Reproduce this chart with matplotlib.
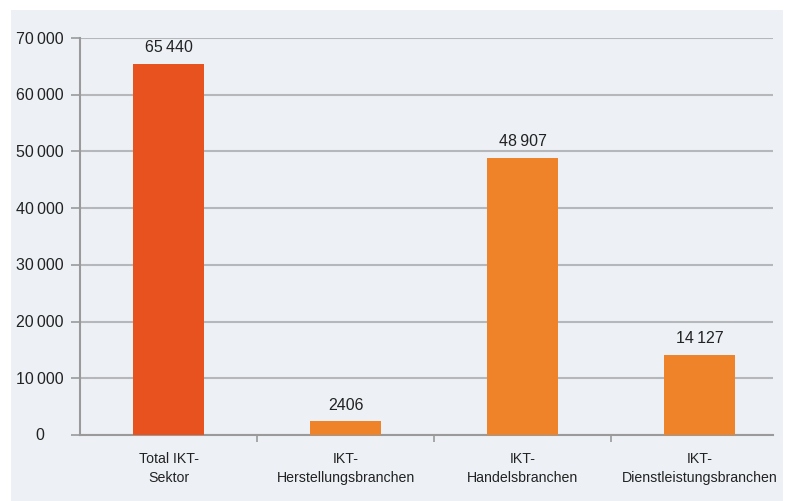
import matplotlib
matplotlib.use("Agg")
import matplotlib.pyplot as plt
import matplotlib.transforms as mtransforms
from matplotlib.patches import Rectangle
from matplotlib import font_manager as fm

categories = ["Total IKT-\nSektor", "IKT-\nHerstellungsbranchen", "IKT-\nHandelsbranchen", "IKT-\nDienstleistungsbranchen"]
values = [65440, 2406, 48907, 14127]
colors = ["#E8521F", "#EE832A", "#EE832A", "#EE832A"]
yticks = [0, 10000, 20000, 30000, 40000, 50000, 60000, 70000]

names = {f.name for f in fm.fontManager.ttflist}
fam = "Liberation Sans Narrow" if "Liberation Sans Narrow" in names else "Liberation Sans"
plt.rcParams['font.family'] = [fam, 'DejaVu Sans']

def fmt(v):
    if v < 10000:
        return str(v)
    return f"{v:,}".replace(",", "\u2009")

W, H = 787, 502
fig = plt.figure(figsize=(W/100, H/100), dpi=100)
fig.patch.set_facecolor("white")
bg = Rectangle((11/W, 0), (783-11)/W, (502-11)/H, transform=fig.transFigure,
               facecolor="#EDF1F6", edgecolor="none", zorder=-10)
fig.patches.append(bg)

ax = fig.add_axes([80/W, 1-436/H, (773-80)/W, (436-39)/H])
ax.set_zorder(5)
ax.set_facecolor("none")
x = list(range(len(categories)))
ax.bar(x, values, width=0.4, color=colors, zorder=3)
for xi, v in zip(x, values):
    ax.text(xi, v + 1700, fmt(v), ha="center", va="bottom", fontsize=11.5, color="#222222")

ax.set_xlim(-0.5, 3.415)
ax.set_ylim(0, 70000)
ax.set_yticks(yticks)
ax.set_yticklabels([])
ax.yaxis.grid(True, color="#B5B7BA", linewidth=1.5, zorder=1)
ax.tick_params(axis="y", length=6.5, width=1.2, color="#9A9A9A")
ytrans = mtransforms.blended_transform_factory(fig.transFigure, ax.transData)
for t in yticks:
    ax.text(40/W, t, fmt(t), transform=ytrans, ha="center", va="center",
            fontsize=11.5, color="#222222", clip_on=False)

ax.set_xticks([0.5, 1.5, 2.5])
ax.set_xticklabels([])
ax.tick_params(axis="x", length=5, width=1.2, color="#9A9A9A", direction="out")
for xi, c in zip(x, categories):
    ax.text(xi, -0.04, c, transform=ax.get_xaxis_transform(), ha="center", va="top",
            fontsize=10.2, color="#222222", linespacing=1.45)

for s in ["top", "right"]:
    ax.spines[s].set_visible(False)
ax.spines["left"].set_color("#9A9A9A")
ax.spines["left"].set_linewidth(1.5)
ax.spines["bottom"].set_color("#9A9A9A")
ax.spines["bottom"].set_linewidth(1.5)

fig.savefig("out.png", dpi=100, facecolor=fig.get_facecolor())
